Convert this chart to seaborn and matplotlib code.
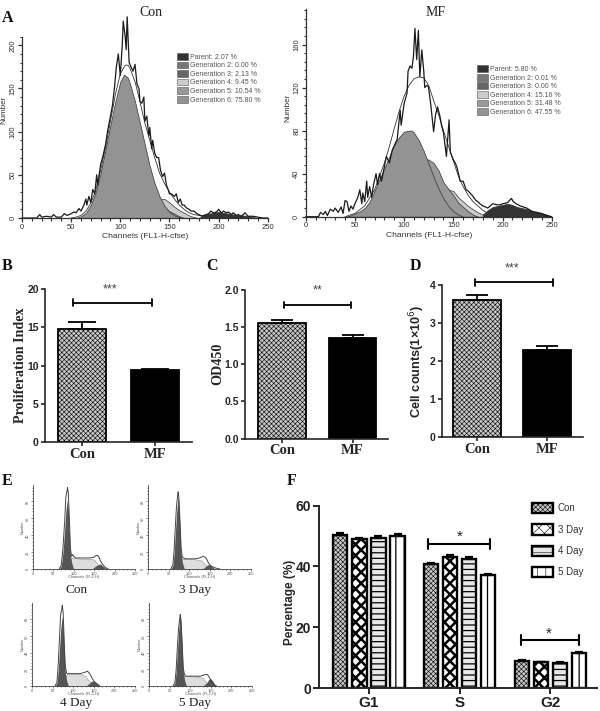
"""Recreates the six panel CFSE / cell cycle figure."""

import matplotlib
matplotlib.use("Agg")
import matplotlib.pyplot as plt
import seaborn as sns
from matplotlib.patches import Patch
from matplotlib.ticker import MultipleLocator

W, H = 600, 711
SERIF = "Liberation Serif"
SANS = "Liberation Sans"

# panel A, Con
con_noise_x = [0, 15, 18, 20, 25, 30, 32, 35, 40, 43, 46, 50, 53, 55, 58, 60, 63, 65, 66, 68, 70, 72, 74, 76, 77, 80, 82, 85, 87, 90, 92, 94, 96, 98, 100, 102, 103, 105, 106, 107, 109, 111, 113, 115, 117, 119, 120, 122, 124, 125, 127, 129, 130, 132, 133, 135, 137, 139, 141, 143, 145, 147, 149, 150, 152, 155, 157, 159, 161, 163, 165, 167, 170, 172, 175, 178, 180, 183, 185, 190, 192, 195, 198, 200, 203, 205, 208, 210, 213, 215, 218, 220, 223, 225, 227, 230, 235, 240, 245, 250]
con_noise_y = [0, 0, 4, 1, 2, 1, 4, 1, 1, 5, 3, 5, 7, 6, 11, 8, 15, 22, 15, 25, 18, 33, 28, 50, 38, 62, 70, 85, 100, 118, 130, 150, 175, 190, 165, 200, 228, 210, 195, 233, 180, 175, 170, 178, 155, 150, 135, 133, 140, 112, 118, 95, 105, 80, 90, 75, 70, 70, 55, 48, 52, 38, 32, 28, 28, 25, 28, 18, 22, 15, 15, 12, 10, 8, 8, 5, 4, 2, 3, 5, 8, 6, 7, 10, 6, 8, 6, 7, 4, 6, 3, 4, 2, 4, 6, 2, 2, 1, 0, 0]
con_fit_x = [50, 55, 60, 65, 70, 75, 80, 85, 90, 95, 100, 105, 108, 110, 115, 120, 125, 130, 135, 140, 145, 150, 155, 160, 165, 170, 175, 180, 190, 200]
con_fit_y = [0, 1, 3, 8, 17, 32, 55, 82, 112, 143, 167, 177, 177, 173, 158, 135, 110, 90, 70, 52, 40, 30, 22, 15, 10, 6, 4, 3, 2, 0]
con_gen6_x = [50, 55, 60, 65, 70, 75, 80, 85, 90, 95, 100, 104, 108, 110, 115, 120, 125, 130, 135, 140, 145, 150, 155, 160, 165]
con_gen6_y = [0, 0, 2, 6, 15, 30, 52, 80, 108, 135, 158, 166, 162, 155, 135, 110, 85, 60, 40, 25, 14, 7, 3, 1, 0]
con_gen5_x = [125, 133, 140, 145, 150, 155, 160, 165]
con_gen5_y = [0, 5, 10, 12, 8, 5, 2, 0]
con_gen4_x = [125, 130, 135, 140, 143, 145, 150, 155, 160, 165, 170, 175, 180]
con_gen4_y = [0, 8, 16, 21, 22, 22, 18, 13, 9, 6, 3, 1, 0]
con_parent_x = [180, 185, 190, 195, 200, 205, 210, 215, 220, 225, 230, 235, 240]
con_parent_y = [0, 3, 5, 6, 7, 6, 5, 4, 3, 3, 2, 1, 0]

# panel A, MF
mf_noise_x = [0, 13, 15, 18, 20, 22, 25, 28, 30, 33, 36, 38, 40, 42, 44, 46, 48, 50, 53, 55, 57, 58, 60, 62, 63, 65, 67, 69, 71.5, 73, 75, 77, 79, 82, 85, 88, 91, 93, 96, 97, 100, 103, 104, 106, 108, 109.5, 111, 112.8, 114.5, 116, 118, 120, 121, 123, 124.7, 127, 130, 132, 134, 136.5, 138, 140, 143, 145.7, 147, 150, 152, 154, 157, 160, 163, 165, 167, 170, 173, 175, 177, 180, 183, 185, 190, 195, 197, 200, 205, 209, 211, 214, 218, 224.6, 230, 235, 240, 245, 250]
mf_noise_y = [0, 0, 4, 2, 5, 1, 7, 5, 8, 4, 9, 3, 15, 14, 5, 10, 7, 12, 18, 25, 12, 22, 14, 33, 18, 28, 18, 30, 40, 30, 40, 33, 42, 56, 50, 62, 68, 72, 99, 85, 105, 115, 135, 140, 138, 149, 175, 146, 173, 130, 155, 135, 120, 122, 121, 105, 79, 95, 102, 93, 85, 78, 56, 90, 60, 53, 50, 45, 33, 33, 25, 24, 22, 19, 15, 14, 12, 10, 9, 8, 12, 11, 11, 12, 13, 17, 14, 12, 10, 8, 5, 4, 3, 1, 0]
mf_fit_x = [40, 50, 60, 70, 80, 85, 90, 95, 100, 105, 110, 115, 120, 125, 130, 135, 140, 145, 150, 155, 160, 165, 170, 175, 180, 185, 190]
mf_fit_y = [0, 3, 10, 25, 50, 65, 82, 98, 112, 122, 128, 130, 129, 122, 108, 95, 80, 66, 52, 38, 28, 20, 14, 10, 6, 3, 1]
mf_gen6_x = [40, 45, 50, 55, 60, 65, 70, 75, 80, 85, 90, 95, 100, 105, 108, 110, 115, 120, 125, 130, 135, 140, 145, 150, 155, 160]
mf_gen6_y = [0, 1, 3, 5, 8, 14, 24, 35, 45, 56, 67, 74, 79, 80, 80, 78, 71, 61, 49, 37, 26, 17, 10, 5, 2, 0]
mf_gen5_x = [70, 80, 90, 100, 110, 120, 125, 130, 135, 140, 145, 150, 155, 160, 165, 170, 175]
mf_gen5_y = [5, 15, 28, 40, 49, 54, 53, 50, 43, 32, 26, 20, 13, 9, 5, 2, 0]
mf_gen4_x = [100, 120, 130, 140, 145, 150, 155, 160, 165, 170, 175, 180, 185, 190]
mf_gen4_y = [5, 15, 22, 25, 25, 24, 18, 14, 10, 7, 4, 2, 1, 0]
mf_parent_x = [180, 185, 190, 195, 200, 205, 210, 215, 220, 225, 230, 235, 240, 245, 250]
mf_parent_y = [2, 6, 9, 10, 11, 12, 11, 9, 8, 7, 5, 4, 3, 2, 0]

gen_labels = ["Parent", "Generation 2", "Generation 3", "Generation 4", "Generation 5", "Generation 6"]
gen_colors = ["#333333", "#777777", "#666666", "#cccccc", "#999999", "#939393"]
con_percent = ["2.07", "0.00", "2.13", "9.45", "10.54", "75.80"]
mf_percent = ["5.80", "0.01", "0.00", "15.16", "31.48", "47.55"]

# panels B, C, D
groups = ["Con", "MF"]
prolif_mean = [14.8, 9.4]
prolif_err = [0.8, 0.15]
od_mean = [1.55, 1.35]
od_err = [0.04, 0.04]
counts_mean = [3.6, 2.3]
counts_err = [0.14, 0.1]

# panel E, one set of curves for each sample
e_names = ["Con", "3 Day", "4 Day", "5 Day"]
e_total_x = [
    [65, 70, 74, 78, 81, 84, 85, 87, 90, 92, 95, 98, 100, 105, 120, 140, 150, 155, 158, 162, 165, 170, 175, 180, 185],
    [55, 60, 63, 66, 69, 72, 73, 75, 78, 80, 83, 86, 90, 100, 115, 125, 130, 134, 138, 142, 146, 150, 155, 165, 175],
    [55, 60, 63, 66, 69, 72, 73, 75, 78, 80, 83, 86, 90, 100, 115, 125, 130, 134, 138, 142, 146, 150, 155, 160, 165],
    [58, 63, 66, 69, 72, 75, 76, 78, 81, 83, 86, 89, 93, 100, 115, 125, 130, 137, 141, 145, 148, 152, 156, 160, 165],
]
e_total_y = [
    [0, 5, 25, 55, 85, 92, 96, 90, 55, 25, 15, 17, 15, 13, 13, 13, 14, 16, 16, 14, 10, 6, 3, 1, 0],
    [0, 5, 22, 50, 75, 88, 91, 82, 50, 25, 14, 13, 12, 12, 12, 13, 14, 15, 14, 12, 8, 5, 3, 1, 0],
    [0, 5, 25, 55, 85, 92, 96, 88, 50, 26, 16, 15, 15, 15, 15, 16, 17, 18, 16, 13, 9, 6, 4, 2, 0],
    [0, 5, 20, 48, 70, 82, 85, 76, 45, 22, 14, 12, 12, 12, 12, 12, 13, 14, 14, 12, 9, 6, 3, 1, 0],
]
e_g1_x = [
    [65, 70, 74, 78, 81, 84, 85, 87, 90, 92, 95, 98, 100],
    [55, 60, 63, 66, 69, 72, 73, 75, 78, 80, 83, 86, 88],
    [55, 60, 63, 66, 69, 72, 73, 75, 78, 80, 83, 86, 88],
    [58, 63, 66, 69, 72, 75, 76, 78, 81, 83, 86, 89, 91],
]
e_g1_y = [
    [0, 4, 20, 45, 68, 80, 80, 70, 40, 18, 8, 3, 0],
    [0, 4, 18, 42, 65, 82, 85, 72, 40, 18, 8, 3, 0],
    [0, 4, 18, 42, 66, 80, 82, 70, 40, 18, 8, 3, 0],
    [0, 4, 18, 42, 66, 82, 85, 72, 40, 18, 8, 3, 0],
]
e_s_x = [
    [85, 90, 92, 95, 100, 120, 140, 150, 155, 160, 165, 170],
    [73, 78, 80, 83, 88, 105, 120, 130, 135, 142, 148, 155],
    [73, 78, 80, 83, 88, 105, 120, 130, 135, 142, 148, 155],
    [76, 81, 83, 86, 91, 105, 120, 130, 135, 140, 145, 150],
]
e_s_y = [
    [0, 5, 10, 13, 13, 12, 12, 11, 8, 5, 2, 0],
    [0, 5, 10, 12, 12, 12, 11, 10, 7, 4, 2, 0],
    [0, 5, 10, 14, 15, 15, 14, 12, 8, 5, 2, 0],
    [0, 5, 9, 12, 12, 12, 11, 10, 7, 4, 2, 0],
]
e_g2_x = [
    [145, 150, 155, 160, 165, 170, 175, 180],
    [130, 135, 140, 145, 150, 155, 160, 165],
    [130, 135, 140, 145, 150, 155, 160, 165],
    [130, 135, 140, 145, 150, 155, 160, 165],
]
e_g2_y = [
    [0, 2, 4, 5, 6, 4, 2, 0],
    [0, 1, 3, 5, 5, 3, 1, 0],
    [0, 2, 4, 6, 6, 4, 2, 0],
    [0, 2, 4, 8, 9, 6, 2, 0],
]
e_y_ticks = [0, 20, 40, 60, 80]

# panel F
phases = ["G1", "S", "G2"]
days = ["Con", "3 Day", "4 Day", "5 Day"]
phase_means = {
    "Con": [50.3, 40.7, 9.0],
    "3 Day": [49.0, 43.0, 8.5],
    "4 Day": [49.3, 42.6, 8.3],
    "5 Day": [49.9, 37.2, 11.5],
}
phase_errs = {
    "Con": [0.6, 0.3, 0.2],
    "3 Day": [0.5, 0.9, 0.2],
    "4 Day": [0.7, 0.5, 0.2],
    "5 Day": [0.7, 0.4, 0.5],
}
day_hatches = ["xxxxxxx", "xxx", "---", "||"]
day_hatch_widths = [0.4, 1.8, 0.9, 0.9]
day_faces = ["#c8c8c8", "white", "#e8e8e8", "white"]


def set_hatch(patch, hatch, width):
    patch.set_hatch(hatch)
    if hasattr(patch, "set_hatch_linewidth"):
        patch.set_hatch_linewidth(width)


def px_axes(fig, left, right, bottom, top):
    """Axes whose corners are given in picture pixels, y counted from the top."""
    return fig.add_axes([left / W, 1 - bottom / H, (right - left) / W, (bottom - top) / H])


def px_text(fig, x, y, text, **kwargs):
    kwargs.setdefault("ha", "center")
    kwargs.setdefault("va", "center")
    fig.text(x / W, 1 - y / H, text, **kwargs)


def draw_generation_panel(ax, fills, fit, noise, percent, ymax, step):
    for (xs, ys), color in fills:
        ax.fill_between(xs, ys, color=color, edgecolor="#333333", linewidth=0.5)
    sns.lineplot(x=fit[0], y=fit[1], ax=ax, color="#333333", linewidth=0.6, estimator=None)
    sns.lineplot(x=noise[0], y=noise[1], ax=ax, color="#1a1a1a", linewidth=0.9, estimator=None, clip_on=False)
    ax.set_xlim(0, 250)
    ax.set_ylim(0, ymax)
    ax.set_xlabel("")
    ax.set_ylabel("")
    ax.xaxis.set_major_locator(MultipleLocator(50))
    ax.xaxis.set_minor_locator(MultipleLocator(10))
    ax.yaxis.set_major_locator(MultipleLocator(step))
    ax.yaxis.set_minor_locator(MultipleLocator(step / 5))
    ax.tick_params(which="major", length=3, width=0.9, labelsize=5.5, pad=1, colors="#333333")
    ax.tick_params(which="minor", length=1.8, width=0.8, colors="#333333")
    ax.tick_params(axis="y", labelrotation=90)
    for lab in ax.get_yticklabels():
        lab.set_va("center")
    sns.despine(ax=ax)
    for side in ["left", "bottom"]:
        ax.spines[side].set_linewidth(0.9)
        ax.spines[side].set_color("#333333")
    handles = [Patch(facecolor=c, edgecolor="#555555", linewidth=0.4) for c in gen_colors]
    labels = [f"{n}: {p} %" for n, p in zip(gen_labels, percent)]
    return handles, labels


def bar_panel(ax, means, errs, ylabel, width, xlim, ylim, step, label_font, label_size, label_x, cap):
    sns.barplot(
        x=groups, y=means, hue=groups, palette=[day_faces[0], "black"], legend=False,
        width=width, saturation=1, edgecolor="black", linewidth=1.3, ax=ax,
    )
    set_hatch(ax.patches[0], day_hatches[0], day_hatch_widths[0])
    centers = [p.get_x() + p.get_width() / 2 for p in ax.patches[:2]]
    ax.errorbar(centers, means, yerr=[[0, 0], errs], fmt="none", ecolor="black",
                elinewidth=1.3, capsize=cap, capthick=1.3, zorder=1)
    ax.set_xlim(*xlim)
    ax.set_ylim(*ylim)
    ax.yaxis.set_major_locator(MultipleLocator(step))
    ax.set_ylabel(ylabel, family=label_font, fontsize=label_size, weight="bold")
    ax.yaxis.set_label_coords(label_x, 0.5)
    ax.tick_params(axis="y", length=3, width=1.2, pad=1.5, labelsize=7.5)
    ax.tick_params(axis="x", length=3, width=1.2, pad=1, labelsize=10.5)
    for lab in ax.get_xticklabels():
        lab.set_family(SERIF)
        lab.set_weight("bold")
    for lab in ax.get_yticklabels():
        lab.set_family(SANS)
        lab.set_weight("bold")
    sns.despine(ax=ax)
    for side in ["left", "bottom"]:
        ax.spines[side].set_linewidth(1.2)


def bracket(ax, x0, x1, y, cap, star_x, star_y, stars, size=9, lw=1.3, color="#444444"):
    ax.plot([x0, x1], [y, y], color="black", lw=lw, clip_on=False, solid_capstyle="butt")
    for xv in (x0, x1):
        ax.plot([xv, xv], [y - cap, y + cap], color="black", lw=lw, clip_on=False)
    ax.text(star_x, star_y, stars, ha="center", va="center", fontsize=size, color=color, clip_on=False)


sns.set_theme(style="ticks")
plt.rcParams["font.family"] = [SANS, "DejaVu Sans"]
plt.rcParams["hatch.linewidth"] = 0.4

fig = plt.figure(figsize=(W / 100, H / 100), dpi=100, facecolor="white")
gen_legend = dict(
    loc="upper left", frameon=False, fontsize=5, labelspacing=0.13, borderpad=0, borderaxespad=0,
    handlelength=1.6, handleheight=1.1, handletextpad=0.3, labelcolor="#555555",
)

# panel A
ax = px_axes(fig, 22, 267.7, 218, 36.7)
handles, labels = draw_generation_panel(
    ax,
    [((con_gen4_x, con_gen4_y), gen_colors[3]), ((con_gen5_x, con_gen5_y), gen_colors[4]),
     ((con_gen6_x, con_gen6_y), gen_colors[5]), ((con_parent_x, con_parent_y), gen_colors[0])],
    (con_fit_x, con_fit_y), (con_noise_x, con_noise_y), con_percent, 210, 50,
)
fig.legend(handles, labels, bbox_to_anchor=(177 / W, 1 - 53 / H), **gen_legend)
ax = px_axes(fig, 305.7, 551.7, 216.7, 9)
handles, labels = draw_generation_panel(
    ax,
    [((mf_gen4_x, mf_gen4_y), gen_colors[3]), ((mf_gen5_x, mf_gen5_y), gen_colors[4]),
     ((mf_gen6_x, mf_gen6_y), gen_colors[5]), ((mf_parent_x, mf_parent_y), gen_colors[0])],
    (mf_fit_x, mf_fit_y), (mf_noise_x, mf_noise_y), mf_percent, 193, 40,
)
fig.legend(handles, labels, bbox_to_anchor=(476.7 / W, 1 - 65.3 / H), **gen_legend)
px_text(fig, 150.7, 12.7, "Con", family=SERIF, fontsize=10, color="#222222")
px_text(fig, 436, 12.7, "MF", family=SERIF, fontsize=10, color="#222222")
px_text(fig, 4, 110, "Number", rotation=90, fontsize=5.8, color="#333333")
px_text(fig, 287.7, 108, "Number", rotation=90, fontsize=5.8, color="#333333")
px_text(fig, 145, 236.2, "Channels (FL1-H-cfse)", fontsize=6.1, color="#333333")
px_text(fig, 429, 235.2, "Channels (FL1-H-cfse)", fontsize=6.1, color="#333333")

# panels B, C, D
ax = px_axes(fig, 45, 191.7, 442.3, 288.7)
bar_panel(ax, prolif_mean, prolif_err, "Proliferation Index", 0.66, (-0.51, 1.51), (0, 20), 5, SERIF, 10.2, -0.125, 10)
bracket(ax, -0.13, 0.96, 18.2, 0.45, 0.385, 19.9, "***")

ax = px_axes(fig, 245, 388, 438.7, 289.7)
bar_panel(ax, od_mean, od_err, "OD450", 0.67, (-0.52, 1.5), (0, 2.0), 0.5, SERIF, 10.2, -0.145, 8)
ax.yaxis.set_major_formatter("{x:.1f}")
bracket(ax, 0.03, 0.976, 1.795, 0.045, 0.51, 1.985, "**")

ax = px_axes(fig, 441.7, 582.7, 437.3, 285)
bar_panel(ax, counts_mean, counts_err, "Cell counts(1×10$^{6}$)", 0.68, (-0.5, 1.51), (0, 4), 1, SANS, 9.2, -0.105, 8)
bracket(ax, -0.03, 1.09, 4.07, 0.09, 0.5, 4.44, "***")

# panel E
e_boxes = [(32.7, 135, 569, 485), (148.3, 250.7, 569, 485), (32.3, 135, 686.3, 602.7), (149, 252, 686.3, 602.7)]
e_label_pos = [(76.7, 590), (195, 590), (76, 703), (195, 703)]
for i, name in enumerate(e_names):
    ax = px_axes(fig, *e_boxes[i])
    ax.fill_between(e_s_x[i], e_s_y[i], color="#dddddd", linewidth=0.3, edgecolor="#777777")
    ax.fill_between(e_g2_x[i], e_g2_y[i], color="#555555", linewidth=0)
    ax.fill_between(e_g1_x[i], e_g1_y[i], color="#555555", linewidth=0)
    sns.lineplot(x=e_total_x[i], y=e_total_y[i], ax=ax, color="#444444", linewidth=0.7, estimator=None)
    ax.set_xlim(0, 250)
    ax.set_ylim(0, 99)
    ax.xaxis.set_major_locator(MultipleLocator(50))
    ax.xaxis.set_minor_locator(MultipleLocator(10))
    ax.set_yticks(e_y_ticks)
    ax.yaxis.set_minor_locator(MultipleLocator(4))
    ax.tick_params(which="major", length=1.6, width=0.5, labelsize=2.8, pad=0.6, colors="#555555")
    ax.tick_params(which="minor", length=1, width=0.5, colors="#555555")
    ax.tick_params(axis="y", labelrotation=90)
    ax.set_xlabel("Channels (FL2-H)", fontsize=2.8, color="#555555", labelpad=-1)
    ax.set_ylabel("Number", fontsize=2.8, color="#555555", labelpad=0.5)
    sns.despine(ax=ax)
    for side in ["left", "bottom"]:
        ax.spines[side].set_linewidth(0.6)
        ax.spines[side].set_color("#444444")
    px_text(fig, *e_label_pos[i], name, family=SERIF, fontsize=9.5, color="#222222")

# panel F
frame = [{"phase": ph, "day": d, "value": phase_means[d][j]} for d in days for j, ph in enumerate(phases)]
ax = px_axes(fig, 319, 596.7, 688, 505.7)
sns.barplot(
    data={k: [row[k] for row in frame] for k in ["phase", "day", "value"]},
    x="phase", y="value", hue="day", order=phases, hue_order=days, palette=day_faces,
    width=0.84, gap=0.25, saturation=1, edgecolor="black", linewidth=1.7, legend=False, ax=ax,
)
for cont, d, hatch, hw in zip(ax.containers, days, day_hatches, day_hatch_widths):
    centers = []
    for patch in cont.patches:
        set_hatch(patch, hatch, hw)
        centers.append(patch.get_x() + patch.get_width() / 2)
    ax.errorbar(centers, phase_means[d], yerr=[[0, 0, 0], phase_errs[d]], fmt="none", ecolor="black",
                elinewidth=1.6, capsize=3, capthick=1.6, zorder=1)
ax.set_xlim(-0.55, 2.51)
ax.set_ylim(0, 60)
ax.yaxis.set_major_locator(MultipleLocator(20))
ax.set_xlabel("")
ax.set_ylabel("Percentage (%)", weight="bold", fontsize=8.5)
ax.yaxis.set_label_coords(-0.082, 0.47)
ax.tick_params(axis="y", length=4, width=1.4, pad=1.5, labelsize=10)
ax.tick_params(axis="x", length=4, width=1.4, pad=1.5, labelsize=11)
for lab in ax.get_xticklabels() + ax.get_yticklabels():
    lab.set_weight("bold")
    lab.set_color("#222222")
sns.despine(ax=ax)
for side in ["left", "bottom"]:
    ax.spines[side].set_linewidth(1.4)
bracket(ax, 0.65, 1.33, 47.4, 1.5, 1.0, 49.8, "*", size=11, lw=1.5, color="#222222")
bracket(ax, 1.68, 2.31, 15.8, 1.5, 1.98, 17.7, "*", size=11, lw=1.5, color="#222222")
legend_patches = []
for h, hw, face in zip(day_hatches, day_hatch_widths, day_faces):
    handle = Patch(facecolor=face, edgecolor="black", linewidth=1.7)
    set_hatch(handle, h, hw)
    legend_patches.append(handle)
fig.legend(
    legend_patches, days, loc="upper left", bbox_to_anchor=(531.7 / W, 1 - 503 / H), frameon=False, fontsize=7,
    labelspacing=1.12, borderpad=0, borderaxespad=0, handlelength=2.15, handleheight=1.25, handletextpad=0.55,
    labelcolor="#333333",
)

# panel letters
for letter, x, y in [("A", 2, 18), ("B", 2, 266), ("C", 206, 266), ("D", 410, 266), ("E", 2, 481), ("F", 287, 481)]:
    px_text(fig, x, y, letter, ha="left", family=SERIF, weight="bold", fontsize=11.5, color="#111111")

fig.savefig("out.png", dpi=100)
plt.close(fig)
